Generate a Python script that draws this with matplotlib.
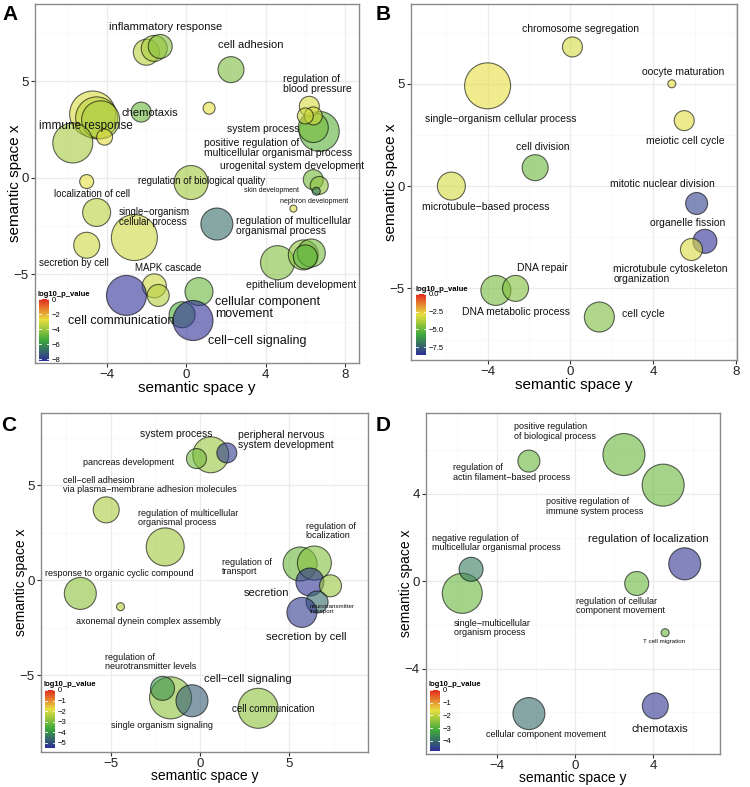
import matplotlib.pyplot as plt
import numpy as np
from matplotlib.colors import LinearSegmentedColormap, Normalize
from matplotlib.cm import ScalarMappable

plt.rcParams['font.family'] = ['Liberation Sans', 'DejaVu Sans']

# ---- data: semantic space coordinates, bubble size, log10 p-value ----
# panel A
a_x = [-2.0, -1.6, -1.3, 2.26, 1.16, -2.26, -4.7, -4.5, -4.3, -5.7, -4.1, -5.0, 0.25,
       6.7, 6.4, 6.2, 6.4, 6.0, 6.4, 6.7, 6.55, 5.4, -4.5, -2.6, 1.55, -5.0,
       4.6, 5.9, 6.3, 6.0, -1.6, -1.4, -3.0, 0.65, -0.2, 0.35]
a_y = [6.5, 6.7, 6.8, 5.6, 3.6, 3.4, 3.3, 3.1, 3.0, 1.8, 2.1, -0.2, -0.25,
       2.4, 2.6, 3.7, 3.2, 3.2, -0.1, -0.4, -0.7, -1.6, -1.8, -3.1, -2.4, -3.5,
       -4.4, -4.0, -3.9, -4.1, -5.6, -6.1, -6.1, -5.9, -7.1, -7.4]
a_size = [13, 13, 12, 13, 6, 10, 23, 21, 19, 20, 8, 7, 17,
          20, 15, 10, 9, 8, 10, 9, 4, 3.5, 14, 23, 16, 13,
          17, 15, 14, 12, 12, 11, 20, 14, 13, 20]
a_logp = [-3.5, -3.8, -4.3, -4.5, -2.8, -4.8, -3.0, -3.4, -3.8, -3.8, -2.9, -2.8, -3.9,
          -5.0, -4.6, -3.0, -3.1, -3.3, -4.6, -4.2, -6.5, -3.0, -3.5, -3.2, -6.8, -3.2,
          -4.4, -4.2, -4.6, -5.0, -3.2, -3.6, -8.2, -4.8, -5.2, -8.2]

# panel B
b_x = [0.1, -4.0, 4.9, 5.5, -1.7, -5.75, 6.1, 6.5, 5.85, -3.6, -2.65, 1.4]
b_y = [6.8, 4.9, 5.0, 3.2, 0.9, 0.0, -0.85, -2.7, -3.1, -5.1, -5.0, -6.4]
b_size = [10, 23, 4, 10, 13, 14, 11, 12, 11, 15, 13, 15]
b_logp = [-3.2, -2.9, -2.9, -3.0, -5.0, -3.2, -8.2, -8.6, -3.1, -4.8, -4.6, -4.7]

# panel C
c_x = [0.6, -0.2, 1.5, -5.25, -1.95, 5.6, 6.4, 6.15, 7.3, 6.55, 5.7, -6.7, -4.45,
       -1.65, -2.1, -0.45, 3.25]
c_y = [6.6, 6.4, 6.7, 3.7, 1.75, 0.85, 0.9, -0.1, -0.3, -1.15, -1.7, -0.7, -1.4,
       -6.2, -5.7, -6.35, -6.75]
c_size = [18, 10, 10, 13, 19, 17, 17, 14, 11, 11, 15, 16, 4, 21, 12, 16, 20]
c_logp = [-2.7, -3.1, -5.3, -2.5, -2.6, -3.2, -2.9, -5.4, -2.7, -4.6, -5.3, -2.8, -2.4,
          -2.8, -4.0, -4.8, -2.8]

# panel D
d_x = [2.5, 4.5, -2.35, 5.6, -5.75, -5.3, 3.15, 4.6, -2.35, 4.1]
d_y = [5.8, 4.4, 5.5, 0.8, -0.55, 0.55, -0.1, -2.35, -6.05, -5.7]
d_size = [21, 21, 11, 16, 20, 12, 12, 4, 16, 13]
d_logp = [-2.8, -2.8, -2.8, -4.7, -2.8, -3.8, -2.8, -2.8, -4.0, -4.7]

# ---- term labels (text, left x, center y, font size) ----
a_labels = [
    ('inflammatory response', -3.87, 7.82, 8),
    ('cell adhesion', 1.6, 6.85, 8),
    ('regulation of\nblood pressure', 4.87, 4.87, 7.5),
    ('chemotaxis', -3.27, 3.37, 8),
    ('immune response', -7.39, 2.69, 8.5),
    ('system process', 2.06, 2.54, 7.5),
    ('positive regulation of\nmulticellular organismal process', 0.9, 1.55, 7.5),
    ('urogenital system development', 1.71, 0.62, 7.5),
    ('regulation of biological quality', -2.41, -0.16, 7),
    ('skin development', 2.91, -0.67, 5),
    ('localization of cell', -6.63, -0.83, 7),
    ('nephron development', 4.72, -1.24, 5),
    ('single\u2212organism\ncellular process', -3.37, -2.05, 7),
    ('regulation of multicellular\norganismal process', 2.5, -2.5, 7.5),
    ('secretion by cell', -7.39, -4.4, 7),
    ('MAPK cascade', -2.56, -4.66, 7),
    ('epithelium development', 3.02, -5.54, 7.5),
    ('cellular component\nmovement', 1.46, -6.74, 9),
    ('cell communication', -5.93, -7.41, 9),
    ('cell\u2212cell signaling', 1.11, -8.45, 9),
]
b_labels = [
    ('chromosome segregation', -2.32, 7.7, 7.5),
    ('oocyte maturation', 3.48, 5.59, 7.5),
    ('single\u2212organism cellular process', -7.0, 3.28, 7.5),
    ('meiotic cell cycle', 3.67, 2.2, 7.5),
    ('cell division', -2.61, 1.91, 7.5),
    ('mitotic nuclear division', 1.93, 0.1, 7.5),
    ('microtubule\u2212based process', -7.15, -1.03, 7.5),
    ('organelle fission', 3.86, -1.81, 7.5),
    ('microtubule cytoskeleton\norganization', 2.08, -4.31, 7.5),
    ('DNA repair', -2.56, -4.02, 7.5),
    ('DNA metabolic process', -5.22, -6.13, 7.5),
    ('cell cycle', 2.51, -6.27, 7.5),
]
c_labels = [
    ('system process', -3.35, 7.68, 7.5),
    ('peripheral nervous\nsystem development', 2.12, 7.37, 7.5),
    ('pancreas development', -6.54, 6.21, 6.5),
    ('cell\u2212cell adhesion\nvia plasma\u2212membrane adhesion molecules', -7.65, 5.0, 6.5),
    ('regulation of multicellular\norganismal process', -3.46, 3.26, 6.5),
    ('regulation of\nlocalization', 5.92, 2.58, 6.5),
    ('regulation of\ntransport', 1.23, 0.68, 6.5),
    ('response to organic cyclic compound', -8.7, 0.37, 6.5),
    ('secretion', 2.46, -0.68, 8),
    ('neurotransmitter\ntransport', 6.15, -1.53, 4.5),
    ('axonemal dynein complex assembly', -6.93, -2.16, 6.5),
    ('secretion by cell', 3.69, -3.0, 8),
    ('regulation of\nneurotransmitter levels', -5.3, -4.3, 6.5),
    ('cell\u2212cell signaling', 0.22, -5.2, 8),
    ('cell communication', 1.8, -6.8, 7),
    ('single organism signaling', -4.97, -7.63, 6.5),
]
d_labels = [
    ('positive regulation\nof biological process', -3.11, 6.85, 6.5),
    ('regulation of\nactin filament\u2212based process', -6.22, 4.98, 6.5),
    ('positive regulation of\nimmune system process', -1.48, 3.42, 6.5),
    ('negative regulation of\nmulticellular organismal process', -7.3, 1.74, 6.5),
    ('regulation of localization', 0.66, 1.92, 8),
    ('regulation of cellular\ncomponent movement', 0.05, -1.12, 6.5),
    ('single\u2212multicellular\norganism process', -6.17, -2.15, 6.5),
    ('T cell migration', 3.47, -2.74, 4.5),
    ('chemotaxis', 2.86, -6.76, 8),
    ('cellular component movement', -4.54, -7.03, 6.5),
]

cmap = LinearSegmentedColormap.from_list(
    'revigo', ['#2e2e96', '#3da83a', '#e8e040', '#e2281e'])

W, H = 750, 787
fig = plt.figure(figsize=(W / 100, H / 100), dpi=100)


def px_box(x0, y0, x1, y1):
    return [x0 / W, 1 - y1 / H, (x1 - x0) / W, (y1 - y0) / H]


def panel(box, xs, ys, sizes, logp, vmin, xlim, ylim, xticks, yticks, labels,
          cbox, cticks, cfmt, letter, lpos, lab_fs, xlab_y, ylab_x):
    ax = fig.add_axes(px_box(*box))
    norm = Normalize(vmin=vmin, vmax=0)
    s = (np.array(sizes) * 1.44) ** 2
    cols = cmap(norm(np.array(logp)))
    cols[:, 3] = 0.6
    ax.scatter(xs, ys, s=s, c=cols, edgecolors=(0, 0, 0, 0.6), linewidths=0.8, zorder=3)
    for txt, tx, ty, fs in labels:
        ax.text(tx, ty, txt, ha='left', va='center', fontsize=fs, color='#111111',
                linespacing=1.05, zorder=4)
    ax.set_xlim(*xlim)
    ax.set_ylim(*ylim)
    ax.set_xticks(xticks)
    ax.set_yticks(yticks)
    xs_major = np.array(xticks)
    ys_major = np.array(yticks)
    dx = xs_major[1] - xs_major[0]
    dy = ys_major[1] - ys_major[0]
    ax.set_xticks(np.arange(xs_major[0] - dx / 2, xlim[1], dx), minor=True)
    ax.set_yticks(np.arange(ys_major[0] - dy / 2, ylim[1], dy), minor=True)
    ax.grid(True, which='major', color='#ebebeb', lw=0.9, zorder=0)
    ax.grid(True, which='minor', color='#f5f5f5', lw=0.5, zorder=0)
    ax.set_axisbelow(True)
    ax.tick_params(which='major', length=3, width=0.8, color='#333333',
                   labelsize=9.5, labelcolor='#222222', pad=1.5)
    ax.tick_params(which='minor', length=0)
    for sp in ax.spines.values():
        sp.set_color('#8a8a8a')
        sp.set_linewidth(1.0)
    ax.set_xlabel('semantic space y', fontsize=lab_fs)
    ax.set_ylabel('semantic space x', fontsize=lab_fs)
    ax.xaxis.set_label_coords(0.5, xlab_y)
    ax.yaxis.set_label_coords(ylab_x, 0.5)

    cax = fig.add_axes(px_box(*cbox))
    cb = fig.colorbar(ScalarMappable(norm=norm, cmap=cmap), cax=cax, ticks=cticks)
    cb.ax.set_yticklabels([cfmt.format(t).replace('-', '\u2212') for t in cticks])
    cb.outline.set_visible(False)
    cb.ax.tick_params(length=0, labelsize=5.5, pad=2)
    for t in cticks:
        cb.ax.axhline(t, color='white', lw=0.6, xmin=0, xmax=0.2)
        cb.ax.axhline(t, color='white', lw=0.6, xmin=0.8, xmax=1)
    fig.text((cbox[0] - 1) / W, 1 - (cbox[1] - 5) / H, 'log10_p_value', fontsize=5.5,
             fontweight='bold', va='center', ha='left')
    fig.text(lpos[0] / W, 1 - lpos[1] / H, letter, fontsize=15, fontweight='bold',
             va='top', ha='left')
    return ax


panel((35, 4, 359, 363), a_x, a_y, a_size, a_logp, -8.25, (-7.6, 8.7), (-9.6, 9.0),
      [-4, 0, 4, 8], [-5, 0, 5], a_labels, (39, 299, 49, 361), [0, -2, -4, -6, -8],
      '{:.0f}', 'A', (2, 5), 11, -0.051, -0.040)
panel((411, 4, 737, 360), b_x, b_y, b_size, b_logp, -8.6, (-7.7, 8.05), (-8.5, 8.9),
      [-4, 0, 4, 8], [-5, 0, 5], b_labels, (416, 294, 426, 355), [0, -2.5, -5, -7.5],
      '{:.1f}', 'B', (376, 5), 11, -0.051, -0.040)
panel((41, 413, 368, 752), c_x, c_y, c_size, c_logp, -5.5, (-8.9, 9.4), (-9.05, 8.8),
      [-5, 0, 5], [-5, 0, 5], c_labels, (45, 690, 55, 748), [0, -1, -2, -3, -4, -5],
      '{:.0f}', 'C', (1, 416), 10, -0.050, -0.040)
panel((426, 413, 720, 754), d_x, d_y, d_size, d_logp, -4.8, (-7.6, 7.4), (-7.9, 7.7),
      [-4, 0, 4], [-4, 0, 4], d_labels, (430, 690, 440, 751), [0, -1, -2, -3, -4],
      '{:.0f}', 'D', (376, 416), 10, -0.050, -0.044)

fig.savefig('out.png', dpi=100)
